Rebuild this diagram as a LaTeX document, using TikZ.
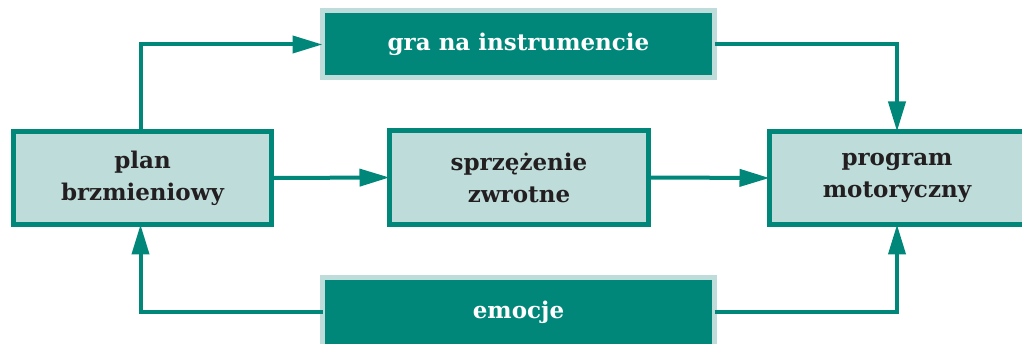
\documentclass[tikz,border=0pt]{standalone}
\usepackage{fontspec}
\setmainfont{DejaVu Serif}
\usetikzlibrary{arrows.meta}
\definecolor{teal}{HTML}{00877A}
\definecolor{lightteal}{HTML}{BEDDDA}
\definecolor{txt}{HTML}{231F20}
\tikzset{
  lightbox/.style={draw=teal, fill=lightteal, line width=5pt, inner sep=0pt, outer sep=0pt,
    text=txt, align=center, font=\bfseries\fontsize{23}{32}\selectfont},
  darkbox/.style={draw=lightteal, fill=teal, line width=5pt, inner sep=0pt, outer sep=0pt,
    text=white, align=center, font=\bfseries\fontsize{23}{32}\selectfont},
  conn/.style={draw=teal, line width=4pt, -{Triangle[length=30pt, width=17pt]}}
}
\begin{document}
\begin{tikzpicture}[x=1pt, y=-1pt]
\useasboundingbox (0,0) rectangle (1022,344);
\clip (0,0) rectangle (1022,344);
\node[lightbox, minimum width=258pt, minimum height=93pt] (plan) at (142.5,178) {plan\\brzmieniowy};
\node[lightbox, minimum width=259pt, minimum height=94pt] (sprz) at (519,177.5) {sprzężenie\\zwrotne};
\node[lightbox, minimum width=255pt, minimum height=93pt] (prog) at (897,178) {program\\motoryczny};
\node[darkbox, minimum width=392pt, minimum height=67pt] (gra) at (518.5,44.5) {gra na instrumencie};
\node[darkbox, minimum width=392pt, minimum height=69pt] (emo) at (518.5,312) {emocje};
\draw[conn] ([xshift=-2pt]plan.north) |- (gra.west);
\draw[conn] (gra.east) -| (prog.north);
\draw[conn] (plan.east) -- (sprz.west);
\draw[conn] (sprz.east) -- (prog.west);
\draw[conn] (emo.west) -| ([xshift=-2pt]plan.south);
\draw[conn] (emo.east) -| (prog.south);
\end{tikzpicture}
\end{document}
